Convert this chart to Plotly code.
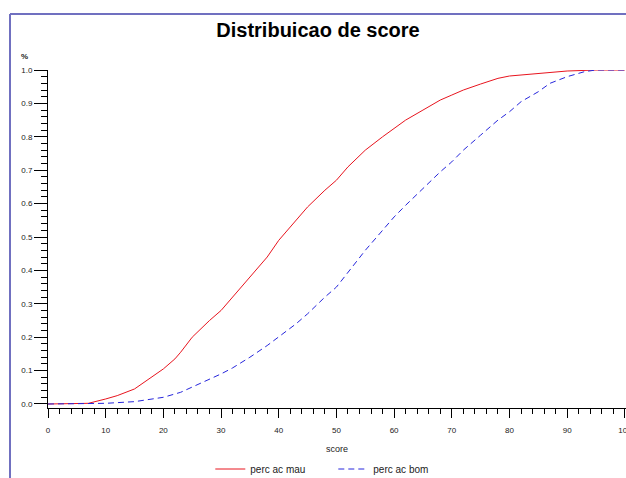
import plotly.graph_objects as go

score = [0, 5, 7, 10, 12, 15, 18, 20, 22, 23, 25, 28, 30, 32, 35, 38, 40, 42, 45, 48,
         50, 52, 55, 58, 60, 62, 65, 68, 70, 72, 75, 78, 80, 85, 90, 95, 100]
perc_ac_mau = [0, 0, 0.002, 0.015, 0.025, 0.045, 0.08, 0.105, 0.135, 0.155, 0.2, 0.25,
               0.28, 0.32, 0.38, 0.44, 0.49, 0.53, 0.59, 0.64, 0.67, 0.71, 0.76, 0.80,
               0.825, 0.85, 0.88, 0.91, 0.925, 0.94, 0.958, 0.975, 0.982, 0.99, 0.997,
               1.0, 1.0]

score_bom = [0, 5, 10, 15, 20, 23, 26, 30, 32, 35, 38, 40, 43, 45, 48, 50, 54, 55, 58,
             60, 62, 65, 68, 70, 72, 75, 78, 80, 82, 85, 87, 90, 93, 95, 100]
perc_ac_bom = [0, 0, 0.002, 0.007, 0.02, 0.035, 0.058, 0.09, 0.108, 0.14, 0.175, 0.2,
               0.24, 0.27, 0.32, 0.35, 0.44, 0.46, 0.52, 0.56, 0.595, 0.645, 0.695,
               0.725, 0.76, 0.805, 0.85, 0.875, 0.905, 0.935, 0.96, 0.98, 0.995, 1.0, 1.0]

x_ticks = list(range(0, 101, 10))
y_ticks = [i / 10 for i in range(11)]

FONT = "Liberation Sans, Arial, sans-serif"

fig = go.Figure()
fig.add_trace(go.Scatter(x=score, y=perc_ac_mau, mode="lines", name="perc ac mau",
                         line=dict(color="#e8141e", width=1)))
fig.add_trace(go.Scatter(x=score_bom, y=perc_ac_bom, mode="lines", name="perc ac bom",
                         line=dict(color="#2626dc", width=1, dash="6px,4px")))

L, R, T, B = 48, 0, 70, 70
W, H = 626, 478
pw, ph = W - L - R, H - T - B

def px_to_paper_x(px):
    return (px - L) / pw

def px_to_paper_y(py):
    return 1 + (T - py) / ph

fx = px_to_paper_x(10)
fy = px_to_paper_y(14)

fig.update_layout(
    width=W, height=H,
    margin=dict(l=L, r=R, t=T, b=B, autoexpand=False),
    paper_bgcolor="white", plot_bgcolor="white",
    font=dict(family=FONT, size=9, color="#222"),
    title=dict(text="<b>Distribuicao de score</b>", x=0.508, xanchor="center",
               y=1 - 30 / H, yanchor="middle", automargin=False,
               font=dict(family=FONT, size=20, color="black")),
    xaxis=dict(range=[0, 100.2], tickvals=x_ticks, ticks="outside", ticklen=9,
               tickwidth=1, tickcolor="black", showline=True, linecolor="black",
               linewidth=1, showgrid=False, zeroline=False, automargin=False,
               ticklabeloverflow="allow", ticklabelstandoff=5,
               tickfont=dict(size=8, family=FONT, color="#222"),
               minor=dict(dtick=2, ticks="outside", ticklen=5, tickcolor="black"),
               title=dict(text="score", font=dict(size=9, family=FONT), standoff=14)),
    yaxis=dict(range=[-0.012, 1.0], tickvals=y_ticks, tickformat=".1f",
               ticks="outside", ticklen=13, tickwidth=1, tickcolor="black",
               showline=True, linecolor="black", linewidth=1, showgrid=False,
               zeroline=False, automargin=False,
               tickfont=dict(size=8, family=FONT, color="#222"),
               minor=dict(dtick=0.02, ticks="outside", ticklen=6, tickcolor="black")),
    showlegend=True,
    legend=dict(orientation="h", x=309 / W, xanchor="center", yref="container",
                y=1 - 469 / H, yanchor="middle", font=dict(size=10, family=FONT),
                bgcolor="rgba(0,0,0,0)", itemwidth=30, tracegroupgap=0,
                entrywidth=78, entrywidthmode="pixels"),
    shapes=[
        dict(type="line", xref="paper", yref="paper", x0=fx, x1=fx, y0=fy, y1=-0.5,
             line=dict(color="#7070c0", width=2)),
        dict(type="line", xref="paper", yref="paper", x0=fx, x1=1.2, y0=fy, y1=fy,
             line=dict(color="#7070c0", width=2)),
    ],
    annotations=[
        dict(text="<b>%</b>", xref="paper", yref="paper", x=px_to_paper_x(24),
             y=px_to_paper_y(57), showarrow=False, font=dict(size=8, family=FONT),
             xanchor="center", yanchor="middle"),
    ],
)

fig.write_html("out.html", config={"displayModeBar": False},
               post_script="document.body.style.margin='0';document.body.style.overflow='hidden';")
